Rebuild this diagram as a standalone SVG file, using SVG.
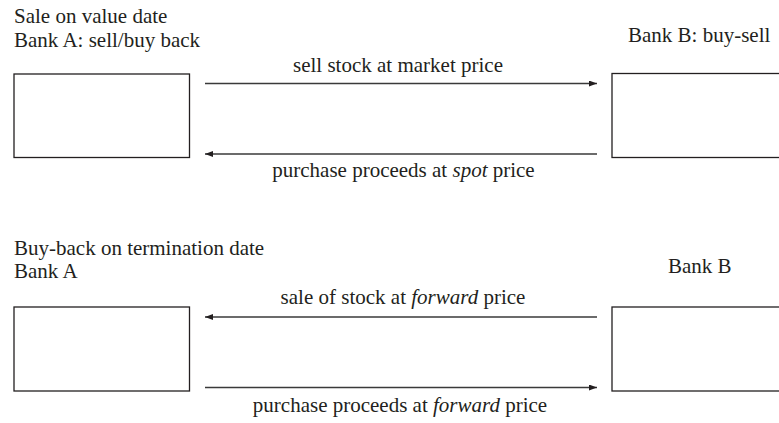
<svg xmlns="http://www.w3.org/2000/svg" width="779" height="423" viewBox="0 0 779 423">
<defs>
<style>
.t{font-family:"Liberation Serif","Times New Roman",serif;font-size:21px;fill:#231f20}
.c{text-anchor:middle}
.i{font-style:italic}
.box{fill:none;stroke:#231f20;stroke-width:1.3}
.ln{stroke:#3a3a3a;stroke-width:1.3;fill:none}
</style>
<marker id="ah" viewBox="0 0 8 6" refX="8" refY="3" markerWidth="8" markerHeight="6" markerUnits="userSpaceOnUse" orient="auto">
<path d="M0,0 L8,3 L0,6 Z" fill="#231f20"/>
</marker>
</defs>
<rect width="779" height="423" fill="#fff"/>
<text class="t" x="14" y="23">Sale on value date</text>
<text class="t" x="14" y="47">Bank A: sell/buy back</text>
<text class="t" x="628" y="42">Bank B: buy-sell</text>
<text class="t" x="14" y="255">Buy-back on termination date</text>
<text class="t" x="14" y="278">Bank A</text>
<text class="t" x="668" y="273">Bank B</text>
<g id="bankA1"><rect class="box" x="14" y="74" width="175.5" height="83.5"/></g>
<g id="bankB1"><rect class="box" x="612" y="73.5" width="180" height="84"/></g>
<g id="bankA2"><rect class="box" x="14" y="307" width="175.5" height="84"/></g>
<g id="bankB2"><rect class="box" x="612" y="307" width="180" height="84"/></g>
<g id="connectors">
<line class="ln" x1="205" y1="83.5" x2="597" y2="83.5" marker-end="url(#ah)"/>
<line class="ln" x1="597" y1="154" x2="205" y2="154" marker-end="url(#ah)"/>
<line class="ln" x1="597" y1="317" x2="205" y2="317" marker-end="url(#ah)"/>
<line class="ln" x1="205" y1="387.5" x2="597" y2="387.5" marker-end="url(#ah)"/>
<text class="t c" x="398" y="72">sell stock at market price</text>
<text class="t c" x="403.5" y="177">purchase proceeds at <tspan class="i">spot</tspan> price</text>
<text class="t c" x="403" y="304">sale of stock at <tspan class="i">forward</tspan> price</text>
<text class="t c" x="400" y="412">purchase proceeds at <tspan class="i">forward</tspan> price</text>
</g>
</svg>
